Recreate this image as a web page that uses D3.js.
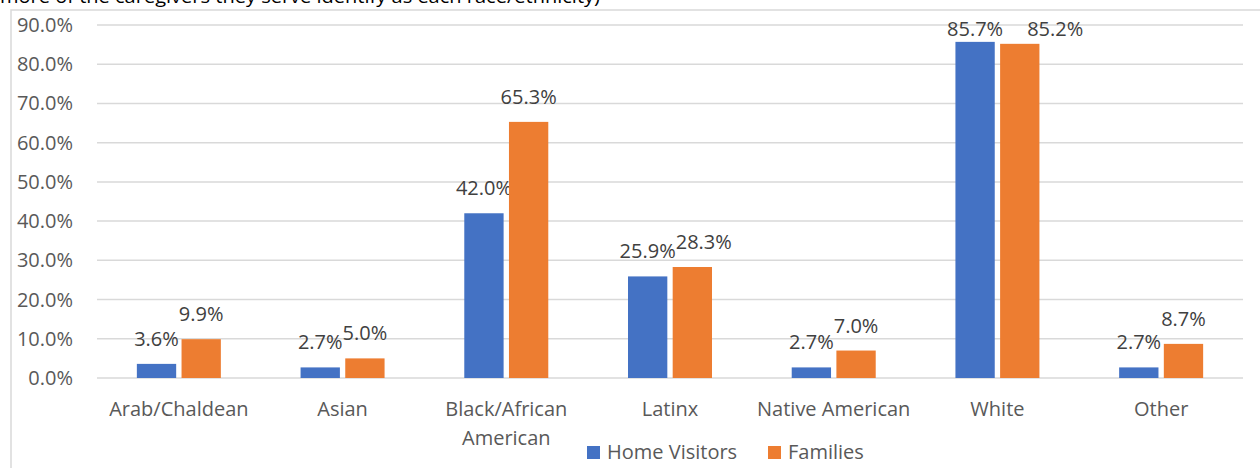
<!DOCTYPE html>
<html><head><meta charset="utf-8">
<script src="https://cdn.jsdelivr.net/npm/d3@7"></script>
<style>body{margin:0;background:#fff;overflow:hidden}svg{display:block}</style>
</head><body>
<script>
const categories = ["Arab/Chaldean","Asian","Black/African American","Latinx","Native American","White","Other"];
const seriesNames = ["Home Visitors","Families"];
const homeVisitors = [3.6,2.7,42.0,25.9,2.7,85.7,2.7];
const families = [9.9,5.0,65.3,28.3,7.0,85.2,8.7];
const yTicks = [0,10,20,30,40,50,60,70,80,90];
const colors = ["#4472C4","#ED7D31"];
const titleText = "more of the caregivers they serve identify as each race/ethnicity)";

const W=1260,H=468;
const svg=d3.select("body").append("svg").attr("width",W).attr("height",H);
const font="'Open Sans', sans-serif";
const FS=20;

svg.append("rect").attr("x",11).attr("y",10).attr("width",1300).attr("height",500)
  .attr("fill","none").attr("stroke","#d9d9d9").attr("stroke-width",1.5);
svg.append("text").attr("x",0).attr("y",3).attr("font-family",font).attr("font-size",19)
  .attr("fill","#000").attr("textLength",600).attr("lengthAdjust","spacingAndGlyphs").text(titleText);

const x0=d3.scaleBand().domain(categories).range([97,1243]);
const y=d3.scaleLinear().domain([0,90]).range([378,25]);
const x1=d3.scaleBand().domain(seriesNames).range([0,84]).paddingInner(0.12);

svg.append("g").selectAll("line").data(yTicks).join("line")
  .attr("x1",97).attr("x2",1243).attr("y1",d=>y(d)).attr("y2",d=>y(d))
  .attr("stroke","#d9d9d9").attr("stroke-width",1.5);
svg.append("g").selectAll("text").data(yTicks).join("text")
  .attr("x",73).attr("y",d=>y(d)+7).attr("text-anchor","end")
  .attr("font-family",font).attr("font-size",FS).attr("fill","#595959")
  .text(d=>d.toFixed(1)+"%");

const data=[homeVisitors,families];
const xs=(c,si)=>x0(c)+x0.bandwidth()/2-42+x1(seriesNames[si]);
const labelNodes=[[],[]];
const LABEL_TOP=36;
data.forEach((vals,si)=>{
  const g=svg.append("g");
  g.selectAll("rect").data(categories).join("rect")
    .attr("x",c=>xs(c,si)).attr("width",x1.bandwidth())
    .attr("y",(c,i)=>y(vals[i])).attr("height",(c,i)=>y(0)-y(vals[i]))
    .attr("fill",colors[si]);
  g.selectAll("text").data(categories).join("text")
    .attr("x",c=>xs(c,si)+x1.bandwidth()/2).attr("y",(c,i)=>Math.max(y(vals[i])-18,LABEL_TOP))
    .attr("text-anchor","middle").attr("font-family",font).attr("font-size",FS)
    .attr("fill","#404040").text((c,i)=>vals[i].toFixed(1)+"%")
    .each(function(c,i){labelNodes[si][i]=this;});
});
// avoid overlapping labels (Excel-like nudge)
categories.forEach((c,i)=>{
  const a=labelNodes[0][i], b=labelNodes[1][i];
  const ba=a.getBBox(), bb=b.getBBox();
  const vOverlap = !(bb.y+bb.height<ba.y || ba.y+ba.height<bb.y);
  if(vOverlap && bb.x < ba.x+ba.width-4){
    const clamped = +b.getAttribute("y")===LABEL_TOP;
    const gap = clamped?24:0;
    const shift = ba.x+ba.width+gap - bb.x;
    b.setAttribute("x", +b.getAttribute("x")+shift);
  }
});

const cl=svg.append("g").selectAll("text").data(categories).join("text")
  .attr("x",c=>x0(c)+x0.bandwidth()/2).attr("y",416).attr("text-anchor","middle")
  .attr("font-family",font).attr("font-size",FS).attr("fill","#595959");
cl.each(function(c){
  const t=d3.select(this);
  const lines=c==="Black/African American"?["Black/African","American"]:[c];
  lines.forEach((l,i)=>t.append("tspan").attr("x",x0(c)+x0.bandwidth()/2).attr("dy",i?29:0).text(l));
});

const leg=[{n:seriesNames[0],x:587},{n:seriesNames[1],x:768}];
leg.forEach((d,i)=>{
  svg.append("rect").attr("x",d.x).attr("y",446).attr("width",13).attr("height",13).attr("fill",colors[i]);
  svg.append("text").attr("x",d.x+20).attr("y",459).attr("font-family",font).attr("font-size",FS)
    .attr("fill","#595959").text(d.n);
});
</script>
</body></html>
